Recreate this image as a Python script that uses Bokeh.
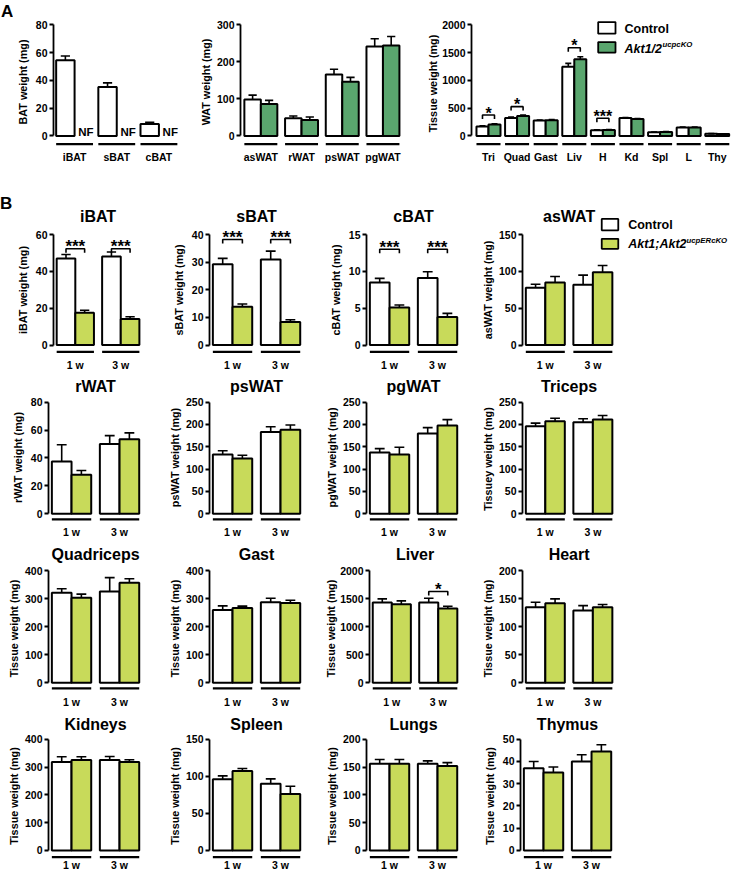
from bokeh.plotting import figure
from bokeh.models import Range1d, FixedTicker, Div
from bokeh.layouts import row, column
from bokeh.embed import file_html
from bokeh.resources import INLINE
from bokeh.core.properties import value

# ---------------- data ----------------
# Panel A
a_bat_cats = ["iBAT", "sBAT", "cBAT"]
a_bat_ctrl = [54.5, 35.2, 8.6]
a_bat_ctrl_sem = [3.0, 3.0, 1.3]
a_bat_ko_note = ["NF", "NF", "NF"]
a_bat_ticks = [0, 20, 40, 60, 80]

a_wat_cats = ["asWAT", "rWAT", "psWAT", "pgWAT"]
a_wat_ctrl = [98, 48, 166, 241]
a_wat_ctrl_sem = [12, 6, 14, 21]
a_wat_ko = [86, 43, 146, 244]
a_wat_ko_sem = [10, 8, 12, 24]
a_wat_ticks = [0, 100, 200, 300]

a_tis_cats = ["Tri", "Quad", "Gast", "Liv", "H", "Kd", "Spl", "L", "Thy"]
a_tis_ctrl = [168, 323, 278, 1245, 102, 323, 66, 150, 38]
a_tis_ctrl_sem = [15, 18, 10, 60, 8, 10, 6, 8, 4]
a_tis_ko = [205, 359, 283, 1377, 108, 305, 72, 150, 36]
a_tis_ko_sem = [15, 15, 10, 48, 8, 10, 6, 8, 4]
a_tis_ticks = [0, 500, 1000, 1500, 2000]
a_sig_cat = ["Tri", "Quad", "Liv", "H"]
a_sig_text = ["*", "*", "*", "***"]
a_sig_y = [377, 527, 1587, 318]

# Panel B
b_groups = ["1 w", "3 w"]
b_tissues = ["iBAT", "sBAT", "cBAT", "asWAT", "rWAT", "psWAT", "pgWAT", "Triceps",
             "Quadriceps", "Gast", "Liver", "Heart", "Kidneys", "Spleen", "Lungs", "Thymus"]
b_ylabels = ["iBAT weight (mg)", "sBAT weight (mg)", "cBAT weight (mg)", "asWAT weight (mg)",
             "rWAT weight (mg)", "psWAT weight (mg)", "pgWAT weight (mg)", "Tissuey weight  (mg)",
             "Tissue weight  (mg)", "Tissue weight  (mg)", "Tissue weight  (mg)", "Tissue weight  (mg)",
             "Tissue weight  (mg)", "Tissue weight  (mg)", "Tissue weight  (mg)", "Tissue weight  (mg)"]
b_ctrl_1w = [47.0, 29.3, 8.5, 78, 37.5, 133, 137, 196, 322, 260, 1435, 135, 318, 96, 156, 37]
b_ctrl_1w_sem = [2.2, 2.1, 0.55, 4.5, 12, 8, 9, 7, 14, 15, 65, 9, 19, 4.5, 7.5, 3]
b_ko_1w = [17.5, 13.9, 5.1, 85, 28, 124, 133, 207, 304, 267, 1405, 142, 325, 107, 156, 35]
b_ko_1w_sem = [1.4, 1.0, 0.35, 8, 3, 7, 16, 7, 13, 7, 60, 8, 12, 3.5, 7.5, 2.5]
b_ctrl_3w = [48.1, 31.0, 9.1, 82, 50, 183, 180, 205, 326, 288, 1435, 129, 325, 90, 156, 40]
b_ctrl_3w_sem = [2.4, 3.0, 0.85, 13, 6, 12, 13, 8, 50, 14, 75, 9, 13, 6.5, 5, 3]
b_ko_3w = [14.2, 8.4, 3.8, 99, 53.5, 188, 198, 211, 358, 285, 1327, 135, 318, 76, 152, 44.5]
b_ko_3w_sem = [1.2, 0.8, 0.5, 9, 4.5, 11, 13, 9, 14, 10, 42, 5, 8, 10.5, 6, 3]
b_ticks = [[0, 20, 40, 60], [0, 10, 20, 30, 40], [0, 5, 10, 15], [0, 50, 100, 150],
           [0, 20, 40, 60, 80], [0, 50, 100, 150, 200, 250], [0, 50, 100, 150, 200, 250],
           [0, 50, 100, 150, 200, 250], [0, 100, 200, 300, 400], [0, 100, 200, 300, 400],
           [0, 500, 1000, 1500, 2000], [0, 50, 100, 150, 200], [0, 100, 200, 300, 400],
           [0, 50, 100, 150], [0, 50, 100, 150, 200], [0, 10, 20, 30, 40, 50]]
b_sig_tissue = ["iBAT", "iBAT", "sBAT", "sBAT", "cBAT", "cBAT", "Liver"]
b_sig_group = ["1 w", "3 w", "1 w", "3 w", "1 w", "3 w", "3 w"]
b_sig_text = ["***", "***", "***", "***", "***", "***", "*"]
b_sig_y = [52.3, 52.3, 38.2, 38.2, 13.0, 13.0, 1633]

# ---------------- styling ----------------
SX = 1.0
SY = 0.996
FONT = "Liberation Sans"
GREEN_A = "#5aa66e"
GREEN_B = "#c8da5a"
BAR_LW = 2.0
ERR_LW = 1.6
TICK_FS = 10.5
AXLAB_FS = 10.8
LAB_FS = 10.5
TITLE_FS = 16
TXT_LIFT = 0.25   # em; text glyphs render slightly low, lift them


def fs(px):
    return f"{px:.2f}px"


def make_fig(fig_l, fig_r, frame_l, frame_r, rg, ppu, x0, ticks, ylabel):
    fl, fr = round(SX * fig_l), round(SX * fig_r)
    ft, fb = round(SY * rg["top"]), round(SY * rg["bot"])
    FL, FR = round(SX * frame_l), min(round(SX * frame_r), fr)
    FT, FB = round(SY * rg["ftop"]), min(round(SY * rg["fbot"]), fb)
    ppu_s = ppu * SX
    top = ticks[-1]
    zs, ts = SY * rg["zero"], SY * rg["tick"]
    kpx = top / (zs - ts)

    def yv(py):
        return (zs - SY * py) * kpx

    def xv(px):
        return x0 + (SX * px - FL) / ppu_s

    p = figure(width=fr - fl, height=fb - ft,
               x_range=Range1d(x0, x0 + (FR - FL) / ppu_s),
               y_range=Range1d((zs - FB) * kpx, (zs - FT) * kpx),
               output_backend="svg", toolbar_location=None, tools="",
               x_axis_location=None,
               min_border_left=FL - fl, min_border_right=fr - FR,
               min_border_top=FT - ft, min_border_bottom=fb - FB)
    p.outline_line_color = None
    p.grid.visible = False
    p.background_fill_color = "white"
    p.border_fill_color = "white"
    ax = p.yaxis[0]
    ax.ticker = FixedTicker(ticks=ticks)
    ax.bounds = (0, top)
    ax.axis_line_width = 1.8
    ax.axis_line_color = "black"
    ax.major_tick_line_width = 1.8
    ax.major_tick_line_color = "black"
    ax.major_tick_out = 4
    ax.major_tick_in = 0
    ax.minor_tick_line_color = None
    ax.major_label_text_font = FONT
    ax.major_label_text_font_style = "bold"
    ax.major_label_text_font_size = fs(TICK_FS)
    ax.major_label_text_color = "black"
    ax.major_label_standoff = 2
    ax.axis_label = ylabel
    ax.axis_label_text_font = FONT
    ax.axis_label_text_font_style = "bold"
    ax.axis_label_text_font_size = fs(AXLAB_FS)
    ax.axis_label_text_color = "black"
    ax.axis_label_standoff = {1: 4, 2: 4, 3: 2, 4: 0}[len(str(top))]
    return p, xv, yv, kpx * SY


def txt(p, x, y, t, size, vpr, style="bold", align="center"):
    lift = TXT_LIFT * size * vpr
    p.text(x=x, y=[v + lift for v in y], text=t, text_align=align, text_baseline="alphabetic",
           text_font=value(FONT), text_font_style=style, text_font_size=fs(size),
           text_color="black")


def letter_fig(fig_l, fig_r, rg, letter, base_ref):
    fl, fr = round(SX * fig_l), round(SX * fig_r)
    ft, fb = round(SY * rg["top"]), round(SY * rg["bot"])
    FT, FB = round(SY * rg["ftop"]), min(round(SY * rg["fbot"]), fb)
    p = figure(width=fr - fl, height=fb - ft, x_range=Range1d(fl, fr), y_range=Range1d(-FB, -FT),
               output_backend="svg", toolbar_location=None, tools="",
               x_axis_location=None, y_axis_location=None,
               min_border_left=0, min_border_right=0,
               min_border_top=FT - ft, min_border_bottom=fb - FB)
    p.outline_line_color = None
    p.grid.visible = False
    txt(p, [fl + 0.5], [-SY * base_ref], [letter], 17, 1.0, align="left")
    return p


def letter_div(fig_l, fig_r, rg, letter, base_ref):
    fl, fr = round(SX * fig_l), round(SX * fig_r)
    ft, fb = round(SY * rg["top"]), round(SY * rg["bot"])
    size = 17
    pad = SY * base_ref - ft - 0.8465 * size
    html = (f'<div style="padding-top:{pad:.1f}px;font-family:\'{FONT}\';font-weight:bold;'
            f'font-size:{size}px;line-height:{size}px;color:black;">{letter}</div>')
    return Div(text=html, width=fr - fl, height=fb - ft, margin=0)


def draw_bars(p, centers, bw, ctrl, ctrl_sem, ko, ko_sem, ko_color):
    xc = [c - bw / 2 for c in centers]
    xk = [c + bw / 2 for c in centers]
    cw = bw * 0.5
    series = [(xc, ctrl, ctrl_sem, "white")]
    if ko is not None:
        series.append((xk, ko, ko_sem, ko_color))
    for xs, vals, errs, col in series:
        tops = [v + e for v, e in zip(vals, errs)]
        p.vbar(x=xs, width=bw, bottom=0, top=vals, fill_color=col,
               line_color="black", line_width=BAR_LW)
        p.segment(x0=xs, y0=vals, x1=xs, y1=tops, line_color="black", line_width=ERR_LW)
        p.segment(x0=[x - cw / 2 for x in xs], x1=[x + cw / 2 for x in xs],
                  y0=tops, y1=tops, line_color="black", line_width=ERR_LW)


def underline(p, centers, bw, labels, yv, vpr, rg):
    yu = yv(rg["under"])
    p.segment(x0=[c - bw for c in centers], x1=[c + bw for c in centers],
              y0=[yu] * len(centers), y1=[yu] * len(centers),
              line_color="black", line_width=2.2)
    txt(p, centers, [yv(rg["lab"])] * len(centers), labels, LAB_FS, vpr)


def bracket(p, c, bw, y, t, vpr, size):
    xl, xr = c - bw / 2, c + bw / 2
    tl = 4 * vpr
    p.multi_line(xs=[[xl, xl, xr, xr]], ys=[[y - tl, y, y, y - tl]],
                 line_color="black", line_width=1.6)
    txt(p, [c], [y - 2.2 * vpr], [t], size, vpr)


def legend(p, xv, yv, vpr, box_l, box_r, rows_y, text_x, ko_main, ko_sup, ko_color,
           base_ctrl, base_ko, base_sup):
    for (t, b), col in zip(rows_y, ["white", ko_color]):
        p.quad(left=[xv(box_l)], right=[xv(box_r)], top=[yv(t)], bottom=[yv(b)],
               fill_color=col, line_color="black", line_width=1.8)
    txt(p, [xv(text_x)], [yv(base_ctrl)], ["Control"], 12.5, vpr, align="left")
    txt(p, [xv(text_x)], [yv(base_ko)], [ko_main], 12.5, vpr, style="bold italic", align="left")
    width_em = {"Akt1/2": 3.001, "Akt1;Akt2": 4.667}[ko_main]
    txt(p, [xv(text_x + width_em * 12.5 + 0.5)], [yv(base_sup)], [ko_sup], 7.8, vpr,
        style="bold italic", align="left")


# ---------------- geometry (reference pixels) ----------------
RA = dict(top=0, bot=172, ftop=0, fbot=164, tick=24.3, zero=136, under=144.3, lab=159.3)
RB = [dict(top=172, bot=375, ftop=207, fbot=374, tick=235, zero=346, under=352.7, lab=368.2, title=220.7),
      dict(top=375, bot=543, ftop=378, fbot=540.6, tick=403.3, zero=515.3, under=521, lab=536, title=391.7),
      dict(top=543, bot=712, ftop=547, fbot=710.7, tick=572.7, zero=685, under=690.7, lab=706.5, title=560.7),
      dict(top=712, bot=878, ftop=717, fbot=878, tick=741.7, zero=853.3, under=860, lab=871, title=731)]
B_COLS = [(0, 165, 48.5, 142.5), (165, 322, 209, 303), (322, 478, 366, 460), (478, 731, 520, 729)]
LETTER_W = 13

# ---------------- panel A ----------------
pa = letter_fig(0, LETTER_W, RA, "A", 15)

# A1: BAT
p1, xv1, yv1, vpr1 = make_fig(LETTER_W, 196, 49, 180, RA, 43.5, -0.5, a_bat_ticks, "BAT weight (mg)")
cen1 = list(range(len(a_bat_cats)))
bw1 = 0.437
draw_bars(p1, cen1, bw1, a_bat_ctrl, a_bat_ctrl_sem, None, None, GREEN_A)
txt(p1, [c + bw1 / 2 + 0.05 for c in cen1], [yv1(135)] * len(cen1), a_bat_ko_note, 11.5, vpr1)
underline(p1, cen1, bw1, a_bat_cats, yv1, vpr1, RA)

# A2: WAT
p2, xv2, yv2, vpr2 = make_fig(196, 420, 240, 403, RA, 40.7, -0.5, a_wat_ticks, "WAT weight (mg)")
cen2 = list(range(len(a_wat_cats)))
bw2 = 0.405
draw_bars(p2, cen2, bw2, a_wat_ctrl, a_wat_ctrl_sem, a_wat_ko, a_wat_ko_sem, GREEN_A)
underline(p2, cen2, bw2, a_wat_cats, yv2, vpr2, RA)

# A3: tissues
p3, xv3, yv3, vpr3 = make_fig(420, 731, 471, 730, RA, 28.6, -0.594, a_tis_ticks, "Tissue weight  (mg)")
cen3 = list(range(len(a_tis_cats)))
bw3 = 0.42
draw_bars(p3, cen3, bw3, a_tis_ctrl, a_tis_ctrl_sem, a_tis_ko, a_tis_ko_sem, GREEN_A)
underline(p3, cen3, bw3, a_tis_cats, yv3, vpr3, RA)
for cat, t, y in zip(a_sig_cat, a_sig_text, a_sig_y):
    bracket(p3, a_tis_cats.index(cat), bw3, y, t, vpr3, 16)
legend(p3, xv3, yv3, vpr3, 597.7, 615, [(21.7, 33.3), (41.7, 52.3)], 624, "Akt1/2", "ucpcKO",
       GREEN_A, 31.7, 51.5, 46.5)

rowA = row(pa, p1, p2, p3)

# ---------------- panel B ----------------
b_rows = []
bwB = 0.41
for r in range(4):
    rg = RB[r]
    figs = []
    if r == 0:
        figs.append(letter_div(0, LETTER_W, rg, "B", 210))
    for c in range(4):
        i = r * 4 + c
        fl, fr, frl, frr = B_COLS[c]
        if c == 0 and r == 0:
            fl = LETTER_W
        p, xv, yv, vpr = make_fig(fl, fr, frl, frr, rg, 48, -0.48, b_ticks[i], b_ylabels[i])
        cen = list(range(len(b_groups)))
        draw_bars(p, cen, bwB,
                  [b_ctrl_1w[i], b_ctrl_3w[i]], [b_ctrl_1w_sem[i], b_ctrl_3w_sem[i]],
                  [b_ko_1w[i], b_ko_3w[i]], [b_ko_1w_sem[i], b_ko_3w_sem[i]], GREEN_B)
        underline(p, cen, bwB, b_groups, yv, vpr, rg)
        txt(p, [0.5], [yv(rg["title"])], [b_tissues[i]], TITLE_FS, vpr)
        for tis, g, t, y in zip(b_sig_tissue, b_sig_group, b_sig_text, b_sig_y):
            if tis == b_tissues[i]:
                bracket(p, b_groups.index(g), bwB, y, t, vpr, 17)
        if i == 3:
            legend(p, xv, yv, vpr, 600, 616.7, [(219.3, 230.7), (239.3, 249.3)], 626.7,
                   "Akt1;Akt2", "ucpERcKO", GREEN_B, 228.3, 248, 243)
        figs.append(p)
    b_rows.append(row(*figs))

layout = column(rowA, *b_rows)
open("out.html", "w").write(file_html(layout, INLINE))
